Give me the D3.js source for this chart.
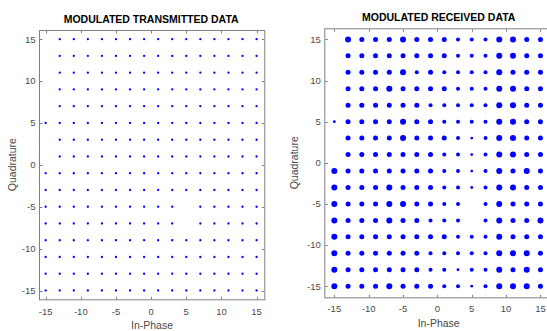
<!DOCTYPE html>
<html>
<head>
<meta charset="utf-8">
<script src="https://cdn.jsdelivr.net/npm/d3@7/dist/d3.min.js"></script>
<style>
  html, body { margin: 0; padding: 0; background: #fff; }
  svg { display: block; }
  text { font-family: "Liberation Sans", Arial, sans-serif; }
</style>
</head>
<body>
<svg id="chart" width="547" height="331"></svg>
<script>
// ---- data ----
const levels = [-15, -13, -11, -9, -7, -5, -3, -1, 1, 3, 5, 7, 9, 11, 13, 15];
const rowLevels = [15, 13, 11, 9, 7, 5, 3, 1, -1, -3, -5, -7, -9, -11, -13, -15];
const ticks = [-15, -10, -5, 0, 5, 10, 15];
const titles = ["MODULATED TRANSMITTED DATA", "MODULATED RECEIVED DATA"];
const xLabel = "In-Phase";
const yLabel = "Quadrature";
// transmitted symbols present (1) / absent (0), rows top (Q=15) to bottom (Q=-15), cols I=-15..15
const txPresent = [
  "0111111111111111",
  "0111111111111111",
  "0111111111111111",
  "0111111111111111",
  "0111111111111111",
  "1111111111111111",
  "0111111111111111",
  "0111111111111111",
  "1111111111111111",
  "1111111111111111",
  "1111111111011111",
  "1111111111011111",
  "1111111111111111",
  "1111111111111111",
  "1111111111111111",
  "1111111111111111"
];
// received cluster spread (0 = none, 1..4 = small..large)
const rxSpread = [
  "0433343332224433",
  "0333333332224433",
  "0333342322224333",
  "0333433332224433",
  "0333333222224433",
  "1333343322224433",
  "0333343332124433",
  "0333333322124433",
  "4333333322124343",
  "4333433322124433",
  "4333443322024333",
  "4333433222024334",
  "4333333332224333",
  "4333333222224443",
  "4333333221224343",
  "4333433322124443"
];

// ---- drawing ----
const svg = d3.select("#chart");
const axisColor = "#808080";
const tickTextColor = "#4a4a4a";

function buildPoints(matrix) {
  const pts = [];
  matrix.forEach((row, ri) => {
    row.split("").forEach((c, ci) => {
      const v = +c;
      if (v > 0) pts.push({ i: levels[ci], q: rowLevels[ri], v: v });
    });
  });
  return pts;
}

function panel(cfg) {
  const x = d3.scaleLinear().domain(cfg.xDom).range(cfg.xRange);
  const y = d3.scaleLinear().domain(cfg.yDom).range(cfg.yRange);
  const g = svg.append("g");
  const x0 = cfg.xRange[0], x1 = cfg.xRange[1], y0 = cfg.yRange[1], y1 = cfg.yRange[0];

  // points
  g.append("g").selectAll("circle")
    .data(cfg.points)
    .join("circle")
    .attr("cx", d => x(d.i))
    .attr("cy", d => y(d.q))
    .attr("r", d => cfg.radius(d.v))
    .attr("fill", "#0000ff");

  // box
  g.append("rect")
    .attr("x", x0 + 0.5).attr("y", y0 + 0.5)
    .attr("width", x1 - x0).attr("height", y1 - y0)
    .attr("fill", "none").attr("stroke", axisColor).attr("stroke-width", 1);

  const tl = 2.5;
  // x ticks (bottom and top, inward)
  const xt = g.append("g").selectAll("g").data(ticks).join("g");
  xt.append("line")
    .attr("x1", d => Math.round(x(d)) + 0.5).attr("x2", d => Math.round(x(d)) + 0.5)
    .attr("y1", y1).attr("y2", y1 - tl).attr("stroke", axisColor);
  xt.append("line")
    .attr("x1", d => Math.round(x(d)) + 0.5).attr("x2", d => Math.round(x(d)) + 0.5)
    .attr("y1", y0 + 1).attr("y2", y0 + 1 + tl).attr("stroke", axisColor);
  xt.append("text")
    .attr("x", d => x(d)).attr("y", cfg.xTickBase)
    .attr("text-anchor", "middle")
    .attr("font-size", "9.5px").attr("fill", tickTextColor)
    .text(d => d);

  // y ticks (left and right, inward)
  const yt = g.append("g").selectAll("g").data(ticks).join("g");
  yt.append("line")
    .attr("y1", d => Math.round(y(d)) + 0.5).attr("y2", d => Math.round(y(d)) + 0.5)
    .attr("x1", x0 + 1).attr("x2", x0 + 1 + tl).attr("stroke", axisColor);
  yt.append("line")
    .attr("y1", d => Math.round(y(d)) + 0.5).attr("y2", d => Math.round(y(d)) + 0.5)
    .attr("x1", x1).attr("x2", x1 - tl).attr("stroke", axisColor);
  yt.append("text")
    .attr("x", x0 - 3.5).attr("y", d => y(d))
    .attr("dy", "0.35em")
    .attr("text-anchor", "end")
    .attr("font-size", "9.5px").attr("fill", tickTextColor)
    .text(d => d);

  // title
  g.append("text")
    .attr("x", (x0 + x1) / 2 + cfg.titleDx).attr("y", cfg.titleBase)
    .attr("text-anchor", "middle")
    .attr("font-size", "10.5px").attr("font-weight", "bold").attr("fill", "#000")
    .text(cfg.title);

  // axis labels
  g.append("text")
    .attr("x", cfg.xLabelX).attr("y", cfg.xLabelBase)
    .attr("text-anchor", "middle")
    .attr("font-size", "10.5px").attr("fill", tickTextColor)
    .text(xLabel);
  g.append("text")
    .attr("transform", `translate(${cfg.yLabelX},${(y0 + y1) / 2}) rotate(-90)`)
    .attr("text-anchor", "middle")
    .attr("font-size", "10.5px").attr("fill", tickTextColor)
    .text(yLabel);
}

const rxRadius = d3.scaleOrdinal().domain([1, 2, 3, 4]).range([1.4, 2.0, 2.5, 3.0]);

panel({
  xDom: [-15.95, 16.1], xRange: [39, 264.3],
  yDom: [-16.05, 16.1], yRange: [299.3, 30],
  points: buildPoints(txPresent),
  radius: () => 1.15,
  title: titles[0], titleBase: 23, titleDx: -0.5,
  xTickBase: 315, xLabelX: 152, xLabelBase: 328.5, yLabelX: 15.5
});

panel({
  xDom: [-16.46, 16.46], xRange: [324.3, 550.5],
  yDom: [-16.35, 16.35], yRange: [297.3, 28.3],
  points: buildPoints(rxSpread),
  radius: d => rxRadius(d),
  title: titles[1], titleBase: 20.5, titleDx: 1.3,
  xTickBase: 312, xLabelX: 438.7, xLabelBase: 327, yLabelX: 298
});
</script>
</body>
</html>
